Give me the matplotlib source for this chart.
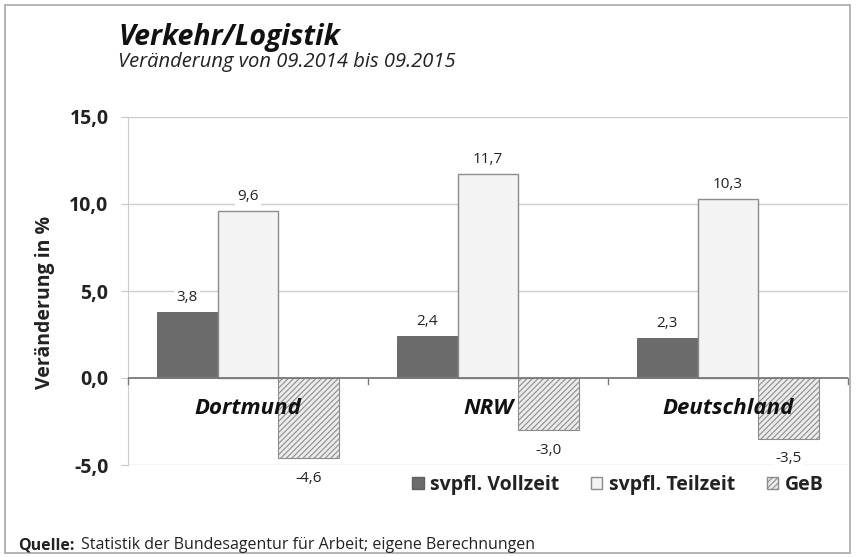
import numpy as np
import matplotlib
matplotlib.use("Agg")
import matplotlib.pyplot as plt
from matplotlib.patches import Patch, Rectangle

plt.rcParams['font.family'] = ['Open Sans', 'DejaVu Sans']
plt.rcParams['hatch.linewidth'] = 0.8

# data
regionen = ['Dortmund', 'NRW', 'Deutschland']
vollzeit = [3.8, 2.4, 2.3]
teilzeit = [9.6, 11.7, 10.3]
geb = [-4.6, -3.0, -3.5]
serien = ['svpfl. Vollzeit', 'svpfl. Teilzeit', 'GeB']
yticks = [-5, 0, 5, 10, 15]

fig = plt.figure(figsize=(8.57, 5.57), dpi=100)
ax = fig.add_axes([128/857, 1 - 465/557, 720/857, 348/557])

x = np.arange(len(regionen))
w = 0.254

b1 = ax.bar(x - w, vollzeit, w, color='#6b6b6b', edgecolor='#606060', linewidth=0.6, zorder=3)
b2 = ax.bar(x, teilzeit, w, color='#f3f3f3', edgecolor='#8c8c8c', linewidth=1.0, zorder=3)
b3 = ax.bar(x + w, geb, w, color='#ececec', edgecolor='#8c8c8c', hatch='//////', linewidth=0.8, zorder=3)

def fmt(v):
    return f'{v:.1f}'.replace('.', ',')

for bars, vals in [(b1, vollzeit), (b2, teilzeit), (b3, geb)]:
    for bar, v in zip(bars, vals):
        cx = bar.get_x() + bar.get_width() / 2
        if v >= 0:
            ax.annotate(fmt(v), (cx, v), xytext=(0, 5), textcoords='offset points',
                        ha='center', va='bottom', fontsize=11, color='#222222', zorder=5,
                        bbox=dict(boxstyle='square,pad=0.15', fc='white', ec='none'))
        else:
            ax.annotate(fmt(v), (cx, v), xytext=(0, -9), textcoords='offset points',
                        ha='center', va='top', fontsize=11, color='#222222', zorder=5,
                        bbox=dict(boxstyle='square,pad=0.15', fc='white', ec='none'))

# category labels inside the plot below zero line
for xi, name in zip(x, regionen):
    ax.text(xi, -1.75, name, ha='center', va='center', fontsize=16,
            fontweight='bold', fontstyle='italic', color='#111111', zorder=4)

ax.set_xlim(-0.5, 2.5)
ax.set_ylim(-5, 15)
ax.set_yticks(yticks)
ax.set_yticklabels([fmt(v) for v in yticks], fontsize=14, fontweight='bold', color='#222222')
ax.tick_params(axis='y', length=5, color='#c8c8c8', pad=9)
ax.set_xticks([])
for yv in [-5, 5, 10, 15]:
    ax.axhline(yv, color='#cccccc', linewidth=1.0, zorder=1)
ax.axhline(0, color='#7a7a7a', linewidth=1.3, zorder=4)
for xb in [-0.5, 0.5, 1.5, 2.5]:
    ax.plot([xb, xb], [0, -0.35], color='#7a7a7a', linewidth=1.0, zorder=4, clip_on=False)

for s in ['top', 'right', 'bottom']:
    ax.spines[s].set_visible(False)
ax.spines['left'].set_color('#cccccc')

fig.text(45/857, 1 - 302/557, 'Veränderung in %', rotation=90, ha='center', va='center',
         fontsize=14, fontweight='bold', color='#222222')

fig.text(118/857, 1 - 45/557, 'Verkehr/Logistik', ha='left', va='baseline',
         fontsize=20.5, fontweight='bold', fontstyle='italic', color='#111111')
fig.text(118/857, 1 - 67/557, 'Veränderung von 09.2014 bis 09.2015', ha='left', va='baseline',
         fontsize=14.5, fontstyle='italic', color='#222222')

handles = [Patch(facecolor='#6b6b6b', edgecolor='#606060'),
           Patch(facecolor='#f3f3f3', edgecolor='#8c8c8c'),
           Patch(facecolor='#ececec', edgecolor='#8c8c8c', hatch='//////')]
leg = fig.legend(handles, serien, loc='center', bbox_to_anchor=(618/857, 1 - 485/557), ncol=3,
                 frameon=False, handlelength=0.6, handleheight=0.6, handletextpad=0.35,
                 columnspacing=1.6, prop={'size': 14, 'weight': 'bold'})
for t in leg.get_texts():
    t.set_color('#222222')

fig.text(18/857, 1 - 549/557, 'Quelle:', ha='left', va='baseline', fontsize=11.5,
         fontweight='bold', color='#222222')
fig.text(81/857, 1 - 549/557, 'Statistik der Bundesagentur für Arbeit; eigene Berechnungen',
         ha='left', va='baseline', fontsize=11.5, color='#222222')

fig.patches.append(Rectangle((5/857, 1 - 553/557), 845/857, 548/557, transform=fig.transFigure,
                             fill=False, edgecolor='#a8a8a8', linewidth=1.2))

fig.savefig('out.png', dpi=100)
